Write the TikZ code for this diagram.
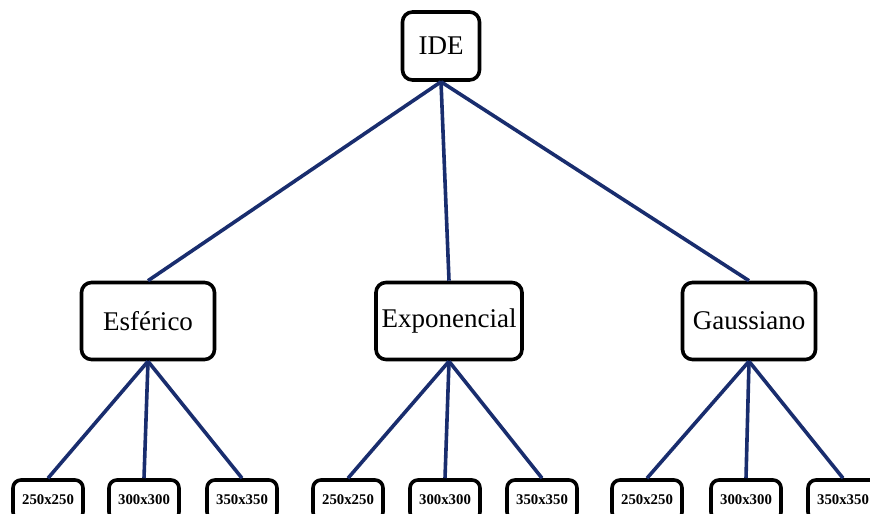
\documentclass[tikz,border=0pt]{standalone}
\usepackage{fontspec}
\setmainfont{Liberation Serif}
\usetikzlibrary{positioning}
\definecolor{linkblue}{RGB}{25,45,110}

\begin{document}
\begin{tikzpicture}
		[x=0.5pt, y=-0.5pt,
		 box/.style={draw, line width=1.8pt, rounded corners=5pt, fill=white, inner sep=1pt, font=\fontsize{13.5}{15}\selectfont},
		 leaf/.style={draw, line width=1.8pt, rounded corners=4pt, fill=white, inner sep=1pt, minimum width=35pt, minimum height=20pt, font=\fontsize{7.4}{8}\selectfont\bfseries},
		 link/.style={draw=linkblue, line width=1.8pt}]
		\useasboundingbox (0,0) rectangle (870,513);
		\node[box, minimum width=38.5pt, minimum height=34pt] (ide) at (441,46) {IDE};
		\node[box, minimum width=66.5pt, minimum height=38.5pt] (esf) at (148,321) {Esférico};
		\node[box, minimum width=73pt, minimum height=38.5pt] (exp) at (449,321) {Exponencial};
		\node[box, minimum width=66.5pt, minimum height=38.5pt] (gau) at (749,321) {Gaussiano};
		
		\node[leaf] (esf1) at (48,500) {250x250};
		\node[leaf] (esf2) at (144,500) {300x300};
		\node[leaf] (esf3) at (242,500) {350x350};
		\node[leaf] (exp1) at (348,500) {250x250};
		\node[leaf] (exp2) at (445,500) {300x300};
		\node[leaf] (exp3) at (542,500) {350x350};
		\node[leaf] (gau1) at (647,500) {250x250};
		\node[leaf] (gau2) at (746,500) {300x300};
		\node[leaf] (gau3) at (843,500) {350x350};
		
		\foreach \p in {esf,exp,gau}
			\draw[link] (ide.south) -- (\p.north);
		\foreach \p in {esf,exp,gau}
			\foreach \i in {1,2,3}
				\draw[link] (\p.south) -- (\p\i.north);
		\end{tikzpicture}
\end{document}
